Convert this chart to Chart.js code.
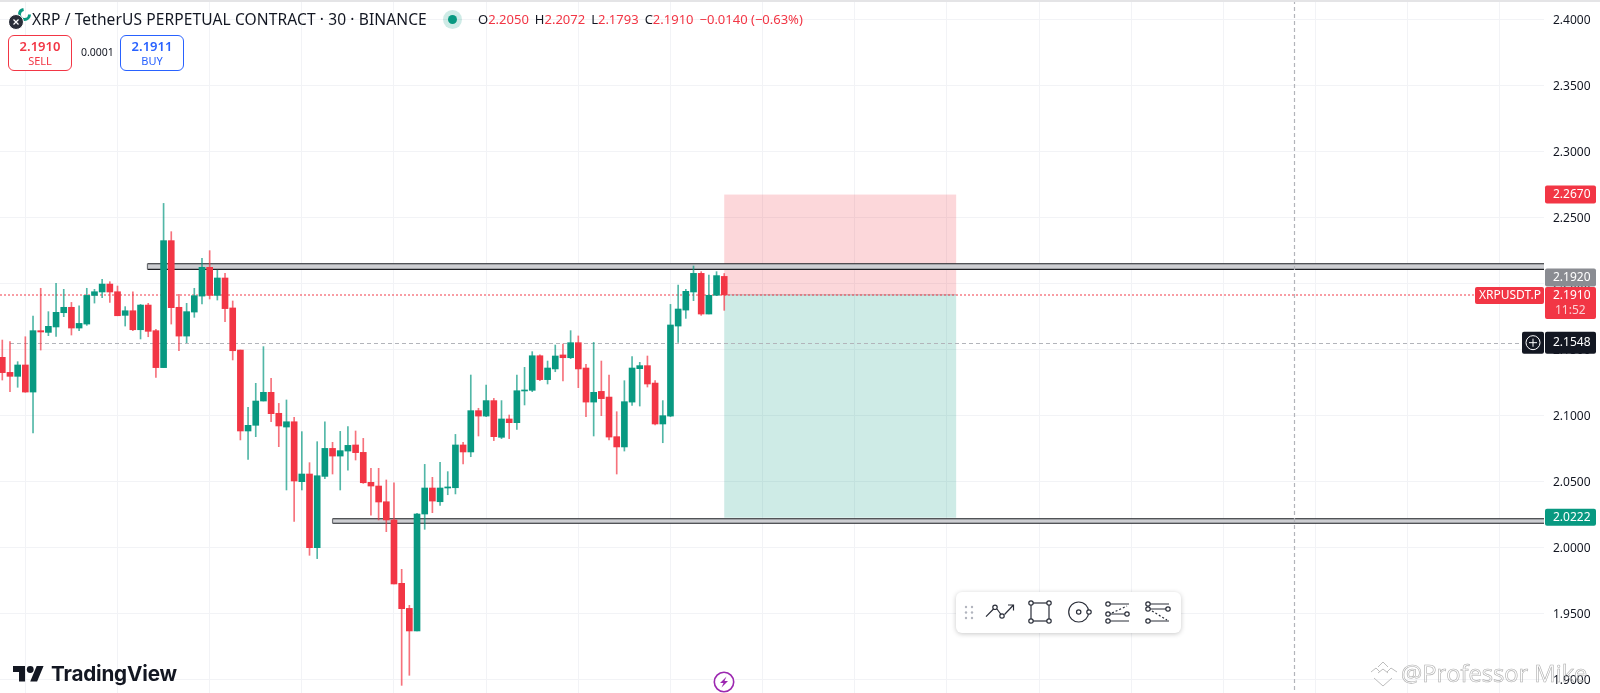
<!DOCTYPE html>
<html><head><meta charset="utf-8"><title>XRP / TetherUS</title>
<script src="https://cdn.jsdelivr.net/npm/chart.js@4"></script>
<style>
html,body{margin:0;padding:0;background:#fff;width:1600px;height:693px;overflow:hidden;font-family:"Noto Sans",sans-serif}
#wrap{position:relative;width:1600px;height:693px}
canvas{position:absolute;left:0;top:0}
.ab{position:absolute;white-space:nowrap}
.topline{left:0;top:0;width:1600px;height:2px;background:#e4e4e6}
.title{left:32px;top:8px;font-size:15.55px;line-height:22px;color:#131722;letter-spacing:.1px}
.ohlc{left:478px;top:9px;font-size:13px;line-height:20px;color:#f23645}
.ohlc b{font-weight:400;color:#131722}
.ohlc span{margin-right:6px}
.box{box-sizing:border-box;height:36px;top:35px;width:64px;border-radius:6px;border:1px solid;text-align:center;background:#fff}
.box .p{font-size:13px;font-weight:600;line-height:16px;margin-top:2px}
.box .s{font-size:11px;line-height:14px}
.spread{left:81px;top:44px;font-size:10.5px;line-height:16px;color:#131722}
.tvtext{left:51px;top:659px;font-family:Inter,sans-serif;font-weight:700;font-size:20.7px;line-height:30px;color:#131722;letter-spacing:-.2px}
.wm{left:1401px;top:657px;font-family:"Open Sans",sans-serif;font-size:23.7px;line-height:32px;color:transparent;-webkit-text-stroke:.6px #adadad}
.tools{left:956px;top:592px;width:225px;height:41px;background:#fff;border-radius:6px;box-shadow:0 1px 5px rgba(0,0,0,.22)}
</style></head>
<body><div id="wrap">
<canvas id="c" width="1600" height="693"></canvas>
<div class="ab topline"></div>
<svg class="ab" style="left:9px;top:8px" width="24" height="24" viewBox="0 0 24 24">
  <circle cx="15.5" cy="6.5" r="5" fill="none" stroke="#089981" stroke-width="3" stroke-dasharray="22 10"/>
  <circle cx="7" cy="14" r="7.5" fill="#2a2e39" stroke="#fff" stroke-width="1"/>
  <path d="M4.5 11.5l5 5M9.5 11.5l-5 5" stroke="#fff" stroke-width="1.2"/>
</svg>
<div class="ab title">XRP / TetherUS PERPETUAL CONTRACT · 30 · BINANCE</div>
<svg class="ab" style="left:442px;top:9px" width="21" height="21"><circle cx="10.5" cy="10.5" r="9.5" fill="#089981" opacity=".2"/><circle cx="10.5" cy="10.5" r="4.5" fill="#089981"/></svg>
<div class="ab ohlc"><span><b>O</b>2.2050</span><span><b>H</b>2.2072</span><span><b>L</b>2.1793</span><span><b>C</b>2.1910</span><span>−0.0140 (−0.63%)</span></div>
<div class="ab box" style="left:8px;border-color:#f23645;color:#f23645"><div class="p">2.1910</div><div class="s">SELL</div></div>
<div class="ab spread">0.0001</div>
<div class="ab box" style="left:120px;border-color:#2962ff;color:#2962ff"><div class="p">2.1911</div><div class="s">BUY</div></div>
<svg class="ab" style="left:13px;top:666px" width="31" height="16" viewBox="0 4 36 18.4"><path d="M14 22H7V11H0V4h14v18zM28 22h-8l7.5-18h8L28 22z" fill="#131722"/><circle cx="20" cy="8" r="4" fill="#131722"/></svg>
<div class="ab tvtext">TradingView</div>
<svg class="ab" style="left:713px;top:671px" width="22" height="22" viewBox="0 0 22 22"><circle cx="11" cy="11" r="9.7" fill="#fff" stroke="#9c27b0" stroke-width="1.6"/><path d="M13.5 5.5L7 12h3.5l-2 4.5L15 10h-3.5z" fill="#9c27b0"/></svg>
<svg class="ab" style="left:1369px;top:660px" width="30" height="28" viewBox="0 0 30 28" fill="none" stroke="#bdbdbd" stroke-width="1"><path d="M9 7l5-5 5 5M2 12l5-4 4 4M18 12l4-4 6 4M9 13l5-4 5 4M5 18l9 8 9-8"/></svg>
<div class="ab wm">@Professor Mike</div>
<div class="ab tools">
<svg width="225" height="41" viewBox="0 0 225 41" fill="none" stroke="#2a2e39" stroke-width="1.2">
  <g fill="#b2b5be" stroke="none"><circle cx="10" cy="15" r="1.2"/><circle cx="16" cy="15" r="1.2"/><circle cx="10" cy="20.5" r="1.2"/><circle cx="16" cy="20.5" r="1.2"/><circle cx="10" cy="26" r="1.2"/><circle cx="16" cy="26" r="1.2"/></g>
  <path d="M30 24.7L37.5 17M41 17l4 5.5M48.5 22.5L57 13.5M52 13h5.5v5.5"/><circle cx="39" cy="15.3" r="2.2"/><circle cx="46" cy="24" r="2.2"/>
  <rect x="75" y="11" width="18" height="18"/><g fill="#fff"><circle cx="75" cy="11" r="2.2"/><circle cx="93" cy="11" r="2.2"/><circle cx="75" cy="29" r="2.2"/><circle cx="93" cy="29" r="2.2"/></g>
  <circle cx="122.7" cy="20" r="10"/><circle cx="122.7" cy="20" r="2.2"/><circle cx="133" cy="20" r="2.2" fill="#fff"/>
  <path d="M154 12h19M154 29h19M154 22h15"/><path d="M156 21l15-7" stroke-dasharray="2 2"/><g fill="#fff"><circle cx="152" cy="12" r="2.2"/><circle cx="152" cy="22" r="2.2"/><circle cx="152" cy="29" r="2.2"/><circle cx="171" cy="22" r="2.2"/></g>
  <path d="M194 12h19M194 17h17M194 29h19"/><path d="M196 19l15 9" stroke-dasharray="2 2"/><g fill="#fff"><circle cx="192" cy="12" r="2.2"/><circle cx="192" cy="17" r="2.2"/><circle cx="192" cy="29" r="2.2"/><circle cx="212" cy="17" r="2.2"/></g>
</svg></div>
</div>
<script>
const opens=[2.1437,2.1323,2.1293,2.1379,2.1174,2.1639,2.1626,2.1667,2.1775,2.1816,2.1659,2.1689,2.1906,2.1932,2.1992,2.1934,2.1755,2.1790,2.1646,2.1833,2.1639,2.1359,2.2321,2.1816,2.1598,2.1780,2.1901,2.2119,2.1906,2.2038,2.1811,
2.1492,2.0879,2.0922,2.1106,2.1172,2.1013,2.0909,2.0949,2.0495,2.0553,1.9995,2.0535,2.0747,2.0689,2.0727,2.0773,2.0717,2.0490,2.0462,2.0343,2.0205,1.9725,1.9535,1.9364,2.0250,2.0447,2.0343,2.0447,2.0449,2.0773,2.0720,
2.1033,2.0992,2.1109,2.0831,2.0970,2.0942,2.1182,2.1187,2.1449,2.1268,2.1349,2.1455,2.1434,2.1548,2.1356,2.1098,2.1179,2.1136,2.0836,2.0758,2.1098,2.1351,2.1374,2.1242,2.0932,2.0992,2.1674,2.1795,2.1932,2.2073,2.1765,2.1907,2.2050];
const highs=[2.1568,2.1556,2.1404,2.1593,2.1750,2.1960,2.1783,2.1997,2.1952,2.1853,2.1828,2.1960,2.1952,2.2028,2.2010,2.1977,2.1821,2.1934,2.1838,2.1846,2.1649,2.2603,2.2389,2.1914,2.1846,2.1960,2.2187,2.2245,2.2098,2.2073,2.1864,
2.1492,2.1058,2.1240,2.1518,2.1278,2.1088,2.1114,2.0982,2.0874,2.0639,2.0798,2.0949,2.0793,2.0876,2.0912,2.0879,2.0823,2.0596,2.0596,2.0508,2.0487,1.9831,1.9558,2.0255,2.0626,2.0528,2.0641,2.0571,2.0853,2.0793,2.1303,
2.1051,2.1227,2.1126,2.1109,2.1000,2.1303,2.1361,2.1480,2.1455,2.1409,2.1530,2.1538,2.1639,2.1599,2.1384,2.1550,2.1409,2.1303,2.1025,2.1260,2.1442,2.1399,2.1447,2.1260,2.1109,2.1838,2.1985,2.1952,2.2129,2.2086,2.2061,2.2086,2.2072];
const lows=[2.1265,2.1177,2.1210,2.1172,2.0864,2.1492,2.1601,2.1596,2.1745,2.1606,2.1639,2.1679,2.1848,2.1889,2.1853,2.1752,2.1674,2.1639,2.1576,2.1593,2.1285,2.1359,2.1689,2.1487,2.1548,2.1740,2.1841,2.1879,2.1871,2.1707,2.1417,
2.0811,2.0664,2.0836,2.1106,2.0949,2.0760,2.0432,2.0194,2.0432,1.9937,1.9912,2.0518,2.0553,2.0432,2.0583,2.0659,2.0482,2.0242,2.0205,2.0116,1.9720,1.8952,1.9028,1.9364,2.0134,2.0260,2.0316,2.0396,2.0402,2.0629,2.0684,
2.0841,2.0987,2.0806,2.0821,2.0821,2.0891,2.1076,2.1177,2.1260,2.1235,2.1328,2.1258,2.1427,2.1207,2.0987,2.0841,2.0995,2.0811,2.0553,2.0727,2.1073,2.1068,2.1212,2.0924,2.0790,2.0987,2.1550,2.1732,2.1866,2.1755,2.1765,2.1904,2.1793];
const closes=[2.1321,2.1293,2.1379,2.1174,2.1639,2.1629,2.1672,2.1778,2.1816,2.1659,2.1694,2.1906,2.1934,2.1992,2.1932,2.1752,2.1790,2.1646,2.1833,2.1634,2.1359,2.2321,2.1813,2.1598,2.1783,2.1904,2.2119,2.1906,2.2038,2.1806,2.1487,
2.0879,2.0922,2.1106,2.1172,2.1010,2.0917,2.0949,2.0500,2.0553,1.9995,2.0540,2.0747,2.0689,2.0730,2.0770,2.0715,2.0487,2.0462,2.0341,2.0205,1.9720,1.9533,1.9364,2.0250,2.0447,2.0348,2.0447,2.0455,2.0773,2.0720,2.1033,
2.0992,2.1109,2.0836,2.0970,2.0942,2.1184,2.1189,2.1449,2.1268,2.1356,2.1447,2.1434,2.1548,2.1349,2.1098,2.1172,2.1124,2.0833,2.0758,2.1101,2.1356,2.1374,2.1235,2.0932,2.0995,2.1682,2.1803,2.1937,2.2073,2.1765,2.1907,2.2056,2.1910];
const priceTicks=[2.40,2.35,2.30,2.25,2.20,2.15,2.10,2.05,2.00,1.95,1.90];
const timeGrid=[3,15,27,39,51,63,75,87,99,111,123,135,147,159,171,183,195];
const resistanceBand=[2.2104,2.2146], resistanceStart=18.9;
const supportBand=[2.0180,2.0214], supportStart=43;
const stopPrice=2.2670, entryPrice=2.1910, targetPrice=2.0222, crossPrice=2.1548, bandTagPrice=2.1920;
const positionStart=94.0, positionEnd=124.2, crossTime=168.2, crossStart=1;

const UP='#089981', DOWN='#f23645', UPW='rgba(8,153,129,.7)', DOWNW='rgba(242,54,69,.7)';
const idx=opens.map((_,i)=>i);
const isUp=idx.map(i=>closes[i]>=opens[i]);

const annotations={id:'annotations',
 beforeDatasetsDraw(ch){
  const {ctx,scales:{x,y},chartArea:a}=ch;
  ctx.save();
  const L=x.getPixelForValue(positionStart),R=x.getPixelForValue(positionEnd);
  const yS=y.getPixelForValue(stopPrice),yE=y.getPixelForValue(entryPrice),yT=y.getPixelForValue(targetPrice);
  ctx.fillStyle='rgba(242,54,69,.2)';ctx.fillRect(L,yS,R-L,yE-yS);
  ctx.fillStyle='rgba(8,153,129,.2)';ctx.fillRect(L,yE,R-L,yT-yE);
  ctx.strokeStyle='rgba(120,123,134,.5)';ctx.lineWidth=1;ctx.beginPath();ctx.moveTo(L,yE);ctx.lineTo(R,yE);ctx.stroke();
  for(const [band,st] of [[resistanceBand,resistanceStart],[supportBand,supportStart]]){
    const X=x.getPixelForValue(st),t=y.getPixelForValue(band[1]),b=y.getPixelForValue(band[0]);
    ctx.fillStyle='#cdced2';ctx.fillRect(X,t,a.right-X,b-t);
    ctx.strokeStyle='#1e2024';ctx.lineWidth=1.2;
    ctx.beginPath();ctx.moveTo(X,t);ctx.lineTo(a.right,t);ctx.moveTo(X,b);ctx.lineTo(a.right,b);ctx.stroke();
    ctx.strokeStyle='#6d6f74';ctx.beginPath();ctx.moveTo(X,t);ctx.lineTo(X,b);ctx.stroke();
  }
  ctx.setLineDash([2,2]);ctx.strokeStyle='rgba(242,54,69,.6)';ctx.lineWidth=1.6;
  ctx.beginPath();ctx.moveTo(a.left,Math.round(yE));ctx.lineTo(a.right,Math.round(yE));ctx.stroke();
  ctx.setLineDash([4,3]);ctx.strokeStyle='#b2b4ba';ctx.lineWidth=1.2;
  const yC=Math.round(y.getPixelForValue(crossPrice))+.5;
  ctx.beginPath();ctx.moveTo(x.getPixelForValue(crossStart),yC);ctx.lineTo(1520,yC);ctx.stroke();
  const xC=Math.round(x.getPixelForValue(crossTime))+.5;
  ctx.beginPath();ctx.moveTo(xC,0);ctx.lineTo(xC,a.bottom);ctx.stroke();
  ctx.restore();
 },
 afterDraw(ch){
  const {ctx,scales:{y}}=ch;
  const tag=(left,right,top,h,color,lines)=>{
    ctx.fillStyle=color;ctx.beginPath();ctx.roundRect(left,top,right-left,h,2);ctx.fill();
    for(const l of lines){ctx.fillStyle=l.c||'#fff';ctx.font='12px "Noto Sans"';ctx.textAlign='left';ctx.textBaseline='middle';ctx.fillText(l.t,left+l.dx,top+l.dy);}
  };
  ctx.save();
  const yS=y.getPixelForValue(stopPrice),yE=y.getPixelForValue(entryPrice),yT=y.getPixelForValue(targetPrice),yC=y.getPixelForValue(crossPrice);
  tag(1545,1596,yS-9,18,DOWN,[{t:stopPrice.toFixed(4),dx:8,dy:9.5}]);
  tag(1545,1596,y.getPixelForValue(bandTagPrice)-25,18,'#8a8c92',[{t:bandTagPrice.toFixed(4),dx:8,dy:9.5}]);
  tag(1475,1544,yE-8,17,DOWN,[{t:'XRPUSDT.P',dx:4,dy:9}]);
  tag(1545,1596,yE-8,32,DOWN,[{t:entryPrice.toFixed(4),dx:8,dy:9},{t:'11:52',c:'#fbd0d4',dx:10,dy:24}]);
  tag(1522,1544,yC-11,22,'#131722',[]);
  ctx.strokeStyle='#fff';ctx.lineWidth=1;ctx.beginPath();ctx.arc(1533,yC,7,0,7);ctx.moveTo(1529,yC);ctx.lineTo(1537,yC);ctx.moveTo(1533,yC-4);ctx.lineTo(1533,yC+4);ctx.stroke();
  tag(1545,1596,yC-11,22,'#131722',[{t:crossPrice.toFixed(4),dx:8,dy:11}]);
  tag(1545,1596,yT-9,17,UP,[{t:targetPrice.toFixed(4),dx:8,dy:9}]);
  ctx.restore();
 }};

new Chart(document.getElementById('c'),{
 type:'bar',
 data:{datasets:[
  {label:'wick',order:2,grouped:false,barThickness:1,data:idx.map(i=>({x:i,y:[lows[i],highs[i]]})),backgroundColor:idx.map(i=>isUp[i]?UPW:DOWNW),borderWidth:0,borderSkipped:false},
  {label:'body',order:1,grouped:false,barThickness:6,minBarLength:1,data:idx.map(i=>({x:i,y:[opens[i],closes[i]]})),backgroundColor:idx.map(i=>isUp[i]?UP:DOWN),borderWidth:0,borderSkipped:false}
 ]},
 options:{
  responsive:false,animation:false,devicePixelRatio:1,
  layout:{padding:0},
  plugins:{legend:{display:false},tooltip:{enabled:false}},
  scales:{
   x:{type:'linear',offset:false,min:-0.3,max:200.74,position:'bottom',
      border:{display:false},
      grid:{color:'#f2f3f6',lineWidth:1,drawTicks:false,offset:false},
      ticks:{display:false},
      afterBuildTicks(s){s.ticks=timeGrid.map(v=>({value:v}));},
      afterFit(s){s.height=0;s.paddingLeft=0;s.paddingRight=0;}},
   y:{type:'linear',position:'right',min:1.8894,max:2.4144,
      border:{display:false},
      grid:{color:'#f2f3f6',lineWidth:1,drawTicks:false},
      ticks:{padding:9,labelOffset:1.5,color:'#131722',font:{family:'"Noto Sans"',size:12},callback:v=>Number(v).toFixed(4),autoSkip:false,includeBounds:false},
      afterBuildTicks(s){s.ticks=priceTicks.map(v=>({value:v}));},
      afterFit(s){s.width=56;s.paddingTop=0;s.paddingBottom=0;}}
  }
 },
 plugins:[annotations]
});
</script>
</body></html>
